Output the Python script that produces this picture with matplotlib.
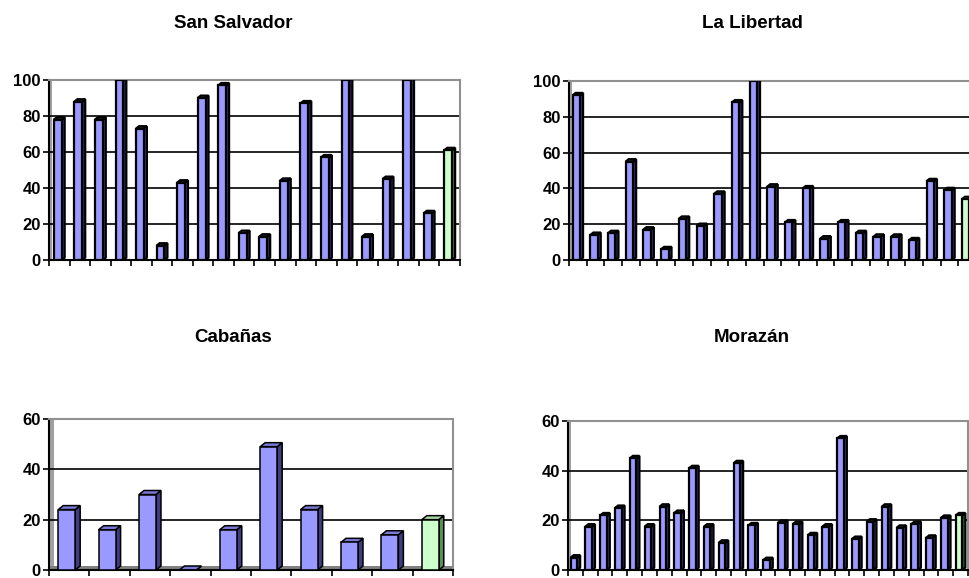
# Recreating the four department bar charts (3D-looking Excel style).

# Importing packages.
import numpy as np
from matplotlib import pyplot as plt
from matplotlib.patches import Polygon, Rectangle

# Data. Last value of each list is the green bar.
san_salvador = [78, 88, 78, 100, 73, 8, 43, 90, 97, 15, 13, 44, 87, 57, 100, 13, 45, 100, 26, 61]
la_libertad = [92, 14, 15, 55, 17, 6, 23, 19, 37, 88, 100, 41, 21, 40, 12, 21, 15, 13, 13, 11,
               44, 39, 34]
cabanas = [24, 16, 30, 0, 16, 49, 24, 11, 14, 20]
morazan = [5, 17.5, 22, 25, 45, 17.5, 25.5, 23, 41, 17.5, 11, 43, 18, 4, 19, 18.5, 14, 17.5,
           53, 12.5, 19.5, 25.5, 17, 18.5, 13, 21, 22]

titles = ["San Salvador", "La Libertad", "Cabañas", "Morazán"]
y_max = [100, 100, 60, 60]
y_step = [20, 20, 20, 20]

# Colours: front, side, top faces.
blue = ["#9999FF", "#3D3D80", "#7A7AD6"]
green = ["#CCFFCC", "#5C8C5C", "#A8D8A8"]

plt.rcParams['font.family'] = ['Liberation Sans', 'DejaVu Sans']
plt.rcParams['font.weight'] = 'bold'

W, H = 970, 578
fig = plt.figure(figsize=(W / 100, H / 100), dpi=100)


# Pixel box -> figure fraction.
def box(left, top, right, bottom):
    return [left / W, 1 - bottom / H, (right - left) / W, (bottom - top) / H]


# Draw one panel with fake 3D bars.
def panel(rect, values, ymax, step, width, depth_px, lw, floor=False):
    ax = fig.add_axes(rect)
    n = len(values)
    ax.set_xlim(-0.5, n - 0.5)
    ax.set_ylim(0, ymax)

    # Depth in data units from pixel size of axes.
    ax_w = rect[2] * W
    ax_h = rect[3] * H
    dx = depth_px * n / ax_w
    dy = depth_px * 0.8 * ymax / ax_h

    # Back wall grid lines.
    for g in np.arange(step, ymax, step):
        ax.axhline(g, color='k', lw=1.2, zorder=1)

    # Grey left wall and floor strips.
    ax.add_patch(Rectangle((0, 0), dx / n, 1, transform=ax.transAxes,
                           color='#A0A0A0', zorder=0.5, lw=0))
    if floor:
        ax.add_patch(Rectangle((0, 0), 1, dy / ymax, transform=ax.transAxes,
                               color='#808080', zorder=0.5, lw=0))

    for i, v in enumerate(values):
        cols = green if i == n - 1 else blue
        x0 = i - width / 2 - dx / 2
        x1 = x0 + width
        # Side face.
        ax.add_patch(Polygon([(x1, 0), (x1 + dx, dy), (x1 + dx, v + dy), (x1, v)],
                             closed=True, facecolor=cols[1], edgecolor='k', lw=lw, zorder=3))
        # Top face.
        ax.add_patch(Polygon([(x0, v), (x1, v), (x1 + dx, v + dy), (x0 + dx, v + dy)],
                             closed=True, facecolor=cols[2], edgecolor='k', lw=lw, zorder=3))
    # Front faces.
    ax.bar(np.arange(n) - dx / 2, values, width=width,
           color=[blue[0]] * (n - 1) + [green[0]], edgecolor='k', lw=lw, zorder=4)

    # Axes look.
    ax.spines['left'].set_color('k')
    ax.spines['bottom'].set_color('k')
    ax.spines['left'].set_linewidth(1.5)
    ax.spines['bottom'].set_linewidth(1.5)
    ax.spines['top'].set_color('#909090')
    ax.spines['right'].set_color('#909090')
    ax.spines['top'].set_linewidth(1.5)
    ax.spines['right'].set_linewidth(1.5)
    ax.set_yticks(np.arange(0, ymax + 1, step))
    ax.tick_params(axis='y', length=4, width=1.2, labelsize=12, pad=2)
    ax.set_xticks(np.arange(n + 1) - 0.5)
    ax.set_xticklabels([])
    ax.tick_params(axis='x', length=4, width=1.2)
    for lab in ax.get_yticklabels():
        lab.set_fontweight('bold')
    return ax


panel(box(49, 80, 460, 260), san_salvador, y_max[0], y_step[0], 0.38, 3, 1.6)
panel(box(569, 81, 976, 260), la_libertad, y_max[1], y_step[1], 0.42, 3, 1.6)
panel(box(49, 419, 453, 570), cabanas, y_max[2], y_step[2], 0.42, 5, 1.1, floor=True)
panel(box(568, 421, 968, 570), morazan, y_max[3], y_step[3], 0.44, 3, 1.6)

# Titles.
fig.text(233 / W, 1 - 23 / H, titles[0], ha='center', va='center', fontsize=13.5, fontweight='bold')
fig.text(752 / W, 1 - 23 / H, titles[1], ha='center', va='center', fontsize=13.5, fontweight='bold')
fig.text(233 / W, 1 - 338 / H, titles[2], ha='center', va='center', fontsize=13.5, fontweight='bold')
fig.text(752 / W, 1 - 338 / H, titles[3], ha='center', va='center', fontsize=13.5, fontweight='bold')

plt.savefig("out.png", dpi=100)
